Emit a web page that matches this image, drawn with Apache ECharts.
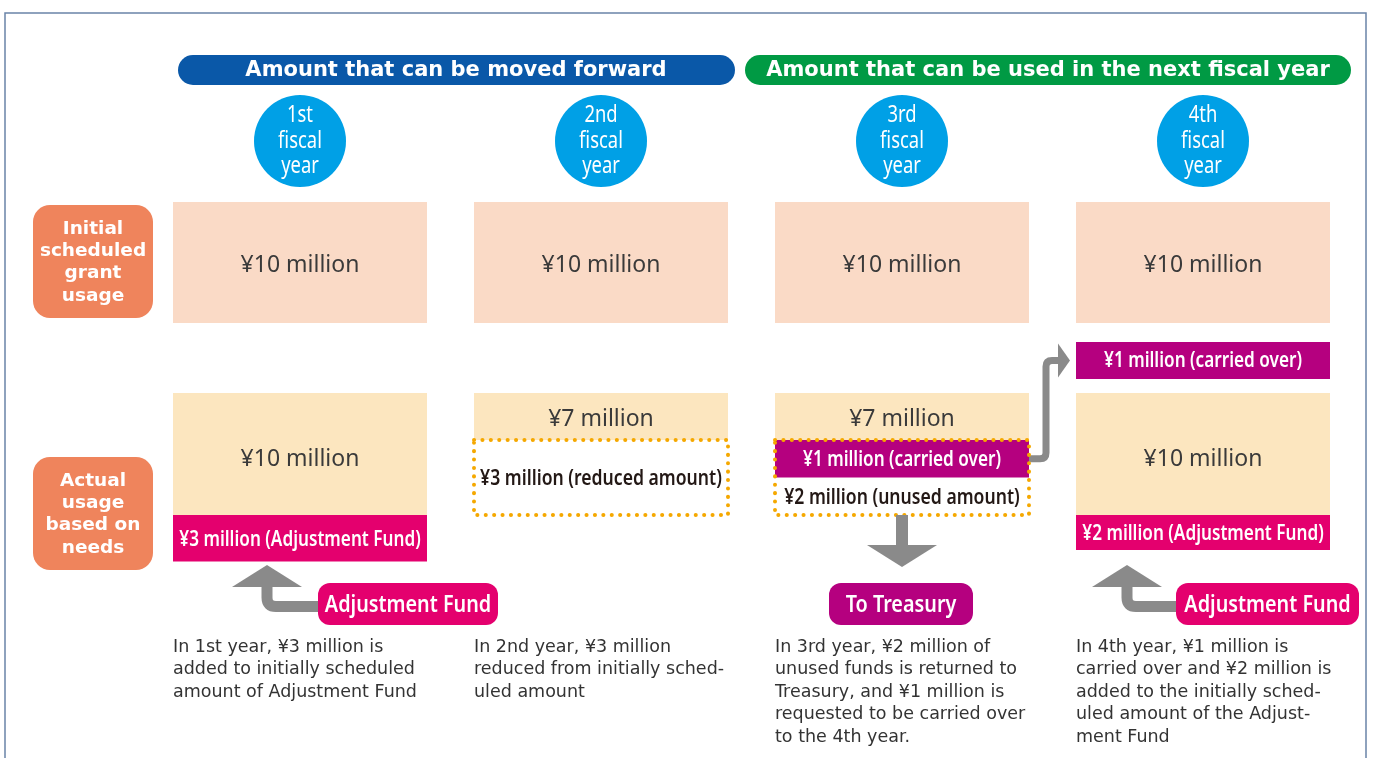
<!DOCTYPE html>
<html>
<head>
<meta charset="utf-8">
<script src="https://cdn.jsdelivr.net/npm/echarts@6/dist/echarts.min.js"></script>
<style>
  html, body { margin: 0; padding: 0; background: #fff; }
  #chart { width: 1373px; height: 758px; }
</style>
</head>
<body>
<div id="chart"></div>
<script>
// data (¥ million per fiscal year)
const years = ['1st', '2nd', '3rd', '4th'];
const initialPlan = [10, 10, 10, 10];
const baseUsed = [10, 7, 7, 10];
const reducedAmount = [0, 3, 0, 0];
const carriedOut = [0, 0, 1, 0];
const unusedAmount = [0, 0, 2, 0];
const carriedIn = [0, 0, 0, 1];
const adjustmentFund = [3, 0, 0, 2];

const headings = ['Amount that can be moved forward', 'Amount that can be used in the next fiscal year'];
const rowNames = ['Initial\nscheduled\ngrant\nusage', 'Actual\nusage\nbased on\nneeds'];
const callouts = ['Adjustment Fund', '', 'To Treasury', 'Adjustment Fund'];
const notes = [
  'In 1st year, ¥3 million is\nadded to initially scheduled\namount of Adjustment Fund',
  'In 2nd year, ¥3 million\nreduced from initially sched-\nuled amount',
  'In 3rd year, ¥2 million of\nunused funds is returned to\nTreasury, and ¥1 million is\nrequested to be carried over\nto the 4th year.',
  'In 4th year, ¥1 million is\ncarried over and ¥2 million is\nadded to the initially sched-\nuled amount of the Adjust-\nment Fund'
];

// colours
const PEACH = '#fadac6';
const BEIGE = '#fce6bf';
const MAGENTA = '#e4006e';
const PURPLE = '#b5007f';
const DOT = '#f5a800';
const GRAY = '#8a8a8a';
const SKY = '#00a0e6';
const ORANGE = '#ef845c';

// layout
const BOX_W = 254;
const PLAN_TOP = 202, PLAN_H = 121;
const CARRY_TOP = 342, STRIP_H = 37;
const USE_TOP = 393, USE_H = 122, PART_H = 47;
const PILL_TOP = 583, PILL_H = 42;

// callout arrow/pill offsets from each box's left edge
const calloutLayout = [
  { dir: 'up', arrow: 94, pill: 145, w: 180, fill: MAGENTA },
  null,
  { dir: 'down', arrow: 127, pill: 54, w: 144, fill: PURPLE },
  { dir: 'up', arrow: 51, pill: 100, w: 183, fill: MAGENTA }
];

function txt(x, y, text, fill, size, sx, extra) {
  return {
    type: 'text', x: x, y: y, scaleX: sx || 1,
    style: Object.assign({
      text: text, fill: fill, fontSize: size, fontFamily: '"Noto Sans"',
      align: 'center', verticalAlign: 'middle'
    }, extra || {})
  };
}

const SEMI = { fontWeight: 600 };

function renderItem(params, api) {
  const i = api.value(0);
  const cx = api.coord([i, 0])[0];
  const L = cx - BOX_W / 2;
  const Y = (u) => api.coord([i, u])[1];
  const kids = [];

  // fiscal year badge
  kids.push({ type: 'circle', shape: { cx: cx, cy: Y(141), r: 46 }, style: { fill: SKY } });
  kids.push(txt(cx, Y(141), years[i] + '\nfiscal\nyear', '#fff', 23, 0.8, { lineHeight: 25.5 }));

  // initial plan
  kids.push({ type: 'rect', shape: { x: L, y: Y(PLAN_TOP), width: BOX_W, height: PLAN_H }, style: { fill: PEACH } });
  kids.push(txt(cx, Y(PLAN_TOP + PLAN_H / 2 + 3), '¥' + initialPlan[i] + ' million', '#3a3a3a', 23, 1));

  // carried in from previous year
  if (carriedIn[i] > 0) {
    kids.push({ type: 'rect', shape: { x: L, y: Y(CARRY_TOP), width: BOX_W, height: STRIP_H }, style: { fill: PURPLE } });
    kids.push(txt(cx, Y(CARRY_TOP + STRIP_H / 2), '¥' + carriedIn[i] + ' million (carried over)', '#fff', 22, 0.78, SEMI));
  }

  // actual usage
  let bottom;
  if (baseUsed[i] >= initialPlan[i]) {
    kids.push({ type: 'rect', shape: { x: L, y: Y(USE_TOP), width: BOX_W, height: USE_H }, style: { fill: BEIGE } });
    kids.push(txt(cx, Y(USE_TOP + USE_H / 2 + 5), '¥' + baseUsed[i] + ' million', '#3a3a3a', 23, 1));
    bottom = USE_TOP + USE_H;
  } else {
    kids.push({ type: 'rect', shape: { x: L, y: Y(USE_TOP), width: BOX_W, height: PART_H }, style: { fill: BEIGE } });
    kids.push(txt(cx, Y(USE_TOP + PART_H / 2 + 3), '¥' + baseUsed[i] + ' million', '#3a3a3a', 23, 1));
    const rest = [];
    if (carriedOut[i] > 0) rest.push({ v: carriedOut[i], t: 'carried over', fill: PURPLE, color: '#fff', sx: 0.78 });
    if (unusedAmount[i] > 0) rest.push({ v: unusedAmount[i], t: 'unused amount', fill: null, color: '#231815', sx: 0.8 });
    if (reducedAmount[i] > 0) rest.push({ v: reducedAmount[i], t: 'reduced amount', fill: null, color: '#231815', sx: 0.8 });
    const top0 = USE_TOP + PART_H;
    const h = (USE_H - PART_H) / rest.length;
    rest.forEach((s, k) => {
      const t = top0 + k * h;
      if (s.fill) {
        kids.push({ type: 'rect', shape: { x: L, y: Y(t), width: BOX_W, height: h }, style: { fill: s.fill } });
      }
      kids.push(txt(cx, Y(t + h / 2 + 1), '¥' + s.v + ' million (' + s.t + ')', s.color, 22, s.sx, SEMI));
      if (s.t === 'carried over') {
        // arrow to next year's carried strip
        const sy = Y(t + h / 2);
        const ty = Y(CARRY_TOP + STRIP_H / 2);
        const ax = L + BOX_W + 17;
        kids.push({
          type: 'path',
          shape: { pathData: 'M' + (L + BOX_W) + ' ' + sy + ' H' + (ax - 6) + ' Q' + ax + ' ' + sy + ' ' + ax + ' ' + (sy - 6) +
            ' V' + (ty + 6) + ' Q' + ax + ' ' + ty + ' ' + (ax + 6) + ' ' + ty + ' H' + (ax + 14) },
          style: { fill: null, stroke: GRAY, lineWidth: 7 }
        });
        kids.push({ type: 'polygon', shape: { points: [[ax + 12, ty - 17], [ax + 24, ty], [ax + 12, ty + 17]] }, style: { fill: GRAY } });
      }
    });
    kids.push({
      type: 'rect', shape: { x: L, y: Y(top0), width: BOX_W, height: USE_H - PART_H },
      style: { fill: null, stroke: DOT, lineWidth: 4, lineDash: [0.1, 8.3], lineCap: 'round' }
    });
    bottom = USE_TOP + USE_H;
  }
  if (adjustmentFund[i] > 0) {
    const h = 12 + adjustmentFund[i] * 11.5;
    kids.push({ type: 'rect', shape: { x: L, y: Y(bottom), width: BOX_W, height: h }, style: { fill: MAGENTA } });
    kids.push(txt(cx, Y(bottom + h / 2 + 1), '¥' + adjustmentFund[i] + ' million (Adjustment Fund)', '#fff', 22, 0.78, SEMI));
  }

  // callout arrow + pill
  const c = calloutLayout[i];
  if (c) {
    const ax = L + c.arrow;
    const px = L + c.pill;
    const py = Y(PILL_TOP);
    if (c.dir === 'up') {
      const hy = Y(587), sy = Y(606.5);
      kids.push({ type: 'polygon', shape: { points: [[ax - 35, hy], [ax, Y(565)], [ax + 35, hy]] }, style: { fill: GRAY } });
      kids.push({
        type: 'path',
        shape: { pathData: 'M' + ax + ' ' + (hy - 1) + ' V' + (sy - 9) + ' Q' + ax + ' ' + sy + ' ' + (ax + 9) + ' ' + sy + ' H' + (px + 4) },
        style: { fill: null, stroke: GRAY, lineWidth: 11 }
      });
    } else {
      kids.push({ type: 'rect', shape: { x: ax - 6, y: Y(USE_TOP + USE_H), width: 12, height: 31 }, style: { fill: GRAY } });
      kids.push({ type: 'polygon', shape: { points: [[ax - 35, Y(545)], [ax + 35, Y(545)], [ax, Y(567)]] }, style: { fill: GRAY } });
    }
    kids.push({ type: 'rect', shape: { x: px, y: py, width: c.w, height: PILL_H, r: 12 }, style: { fill: c.fill } });
    kids.push(txt(px + c.w / 2, py + PILL_H / 2 + 1, callouts[i], '#fff', 23, 0.86, SEMI));
  }

  // explanatory note
  kids.push({
    type: 'text', x: L, y: Y(636),
    style: {
      text: notes[i], fill: '#333', fontSize: 17.5, fontFamily: '"DejaVu Sans"',
      align: 'left', verticalAlign: 'top', lineHeight: 22.5
    }
  });

  return { type: 'group', children: kids };
}

const chart = echarts.init(document.getElementById('chart'));

const option = {
  animation: false,
  backgroundColor: '#fff',
  grid: { left: 149.5, right: 19.5, top: 0, bottom: 0 },
  xAxis: { type: 'category', data: years, show: false },
  yAxis: { type: 'value', inverse: true, min: 0, max: 758, show: false },
  graphic: [
    // frame
    { type: 'polyline', shape: { points: [[5, 758], [5, 13], [1366, 13], [1366, 758]] }, style: { fill: null, stroke: '#6a84a8', lineWidth: 1.5 } },
    // headings
    { type: 'rect', shape: { x: 178, y: 55, width: 557, height: 30, r: 15 }, style: { fill: '#0a58a8' } },
    { type: 'text', x: 456, y: 71, style: { text: headings[0], fill: '#fff', fontSize: 21, fontWeight: 'bold', fontFamily: '"DejaVu Sans"', align: 'center', verticalAlign: 'middle' } },
    { type: 'rect', shape: { x: 745, y: 55, width: 606, height: 30, r: 15 }, style: { fill: '#009a44' } },
    { type: 'text', x: 1048, y: 71, style: { text: headings[1], fill: '#fff', fontSize: 21, fontWeight: 'bold', fontFamily: '"DejaVu Sans"', align: 'center', verticalAlign: 'middle' } },
    // row names
    { type: 'rect', shape: { x: 33, y: 205, width: 120, height: 113, r: 17 }, style: { fill: ORANGE } },
    { type: 'text', x: 93, y: 262.5, style: { text: rowNames[0], fill: '#fff', fontSize: 18.5, fontWeight: 'bold', fontFamily: '"DejaVu Sans"', align: 'center', verticalAlign: 'middle', lineHeight: 22.3 } },
    { type: 'rect', shape: { x: 33, y: 457, width: 120, height: 113, r: 17 }, style: { fill: ORANGE } },
    { type: 'text', x: 93, y: 514.5, style: { text: rowNames[1], fill: '#fff', fontSize: 18.5, fontWeight: 'bold', fontFamily: '"DejaVu Sans"', align: 'center', verticalAlign: 'middle', lineHeight: 22.3 } }
  ],
  series: [
    {
      type: 'custom',
      renderItem: renderItem,
      data: years.map((y, i) => [i]),
      clip: false,
      silent: true
    }
  ]
};

chart.setOption(option);
</script>
</body>
</html>
